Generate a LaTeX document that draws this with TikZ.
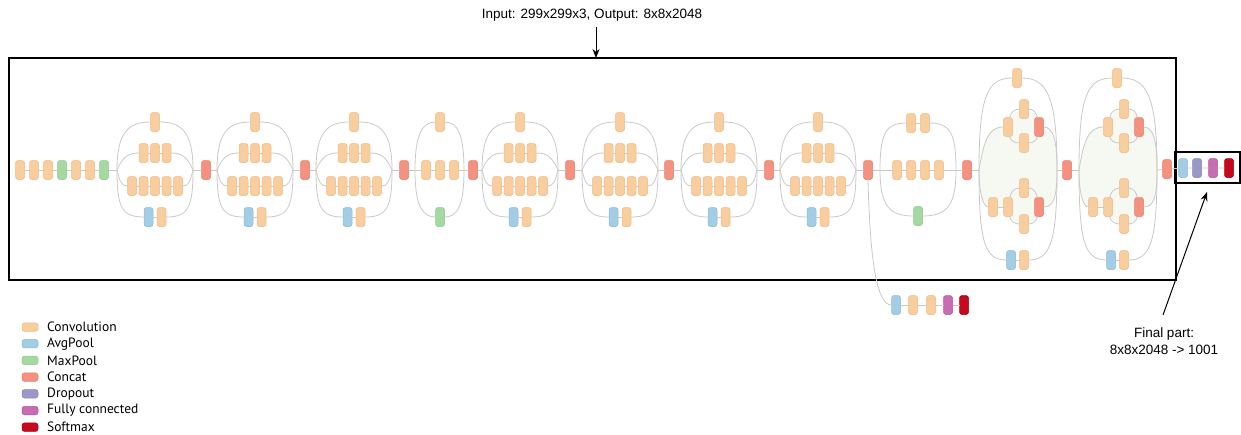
\documentclass[tikz,border=0pt]{standalone}
\usepackage{fontspec}
\setmainfont{Liberation Sans}
\newfontfamily\legfont{PT Sans}
\usetikzlibrary{arrows.meta,calc}
\definecolor{convF}{HTML}{F9CE9F}
\definecolor{convD}{HTML}{EDB886}
\definecolor{avgF}{HTML}{A3CDE4}
\definecolor{avgD}{HTML}{8DBAD3}
\definecolor{maxF}{HTML}{A6D9A1}
\definecolor{maxD}{HTML}{8EC789}
\definecolor{catF}{HTML}{F4917F}
\definecolor{catD}{HTML}{E47D6C}
\definecolor{dropF}{HTML}{9B97C9}
\definecolor{dropD}{HTML}{8783B8}
\definecolor{fcF}{HTML}{C76CB2}
\definecolor{fcD}{HTML}{B5599F}
\definecolor{smF}{HTML}{C40A1C}
\definecolor{smD}{HTML}{A80012}
\definecolor{wireC}{HTML}{C9C9C9}
\definecolor{innerF}{HTML}{F6F8F2}
\tikzset{
 blk/.style={rectangle, rounded corners=2.5pt, minimum width=9pt, minimum height=19pt, inner sep=0pt, outer sep=0pt, line width=0.5pt},
 conv/.style={blk, fill=convF, draw=convD},
 avgp/.style={blk, fill=avgF, draw=avgD},
 maxp/.style={blk, fill=maxF, draw=maxD},
 concat/.style={blk, fill=catF, draw=catD},
 drop/.style={blk, fill=dropF, draw=dropD},
 fcl/.style={blk, fill=fcF, draw=fcD},
 smax/.style={blk, fill=smF, draw=smD},
 wire/.style={draw=wireC, line width=0.8pt},
 frame/.style={draw=black, line width=1.3pt, inner sep=0pt, outer sep=0pt},
 arr/.style={draw=black, line width=1pt, -{Stealth[length=9pt,width=7pt]}},
 swatch/.style={rectangle, rounded corners=2.5pt, minimum width=16pt, minimum height=8.5pt, inner sep=0pt, line width=0.5pt},
 legtext/.style={anchor=west, inner sep=0pt, font=\legfont\fontsize{13.5}{15}\selectfont},
}
% 35x35 / 17x17 inception module
\newcommand\incA[2]{%
 \node[conv] (#1t) at (#2,-122) {};
 \node[conv] (#1m1) at (#2-11.5,-153) {};
 \node[conv] (#1m2) at (#2,-153) {};
 \node[conv] (#1m3) at (#2+11.5,-153) {};
 \foreach \ii/\dx in {1/-23,2/-11.5,3/0,4/11.5,5/23} {\node[conv] (#1l\ii) at (#2+\dx,-186) {};}
 \node[avgp] (#1b1) at (#2-6.5,-217) {};
 \node[conv] (#1b2) at (#2+6.5,-217) {};
 \coordinate (#1L) at (#2-38,-170);
 \coordinate (#1R) at (#2+38,-170);
 \draw[wire] (#1L) .. controls +(0,38) and +(-22,0) .. (#1t.west);
 \draw[wire] (#1t.east) .. controls +(22,0) and +(0,38) .. (#1R);
 \draw[wire] (#1L) .. controls +(6,14) and +(-10,0) .. (#1m1.west);
 \draw[wire] (#1m1) -- (#1m2) -- (#1m3);
 \draw[wire] (#1m3.east) .. controls +(10,0) and +(-6,14) .. (#1R);
 \draw[wire] (#1L) .. controls +(3,-12) and +(-6,0) .. (#1l1.west);
 \draw[wire] (#1l1) -- (#1l2) -- (#1l3) -- (#1l4) -- (#1l5);
 \draw[wire] (#1l5.east) .. controls +(6,0) and +(-3,-12) .. (#1R);
 \draw[wire] (#1L) .. controls +(0,-38) and +(-22,0) .. (#1b1.west);
 \draw[wire] (#1b1) -- (#1b2);
 \draw[wire] (#1b2.east) .. controls +(22,0) and +(0,-38) .. (#1R);
}
% reduction A
\newcommand\redA[2]{%
 \node[conv] (#1t) at (#2,-122) {};
 \node[conv] (#1m1) at (#2-14,-170) {};
 \node[conv] (#1m2) at (#2,-170) {};
 \node[conv] (#1m3) at (#2+14,-170) {};
 \node[maxp] (#1b) at (#2,-217) {};
 \coordinate (#1L) at (#2-25,-170);
 \coordinate (#1R) at (#2+24,-170);
 \draw[wire] (#1L) .. controls +(0,36) and +(-13,0) .. (#1t.west);
 \draw[wire] (#1t.east) .. controls +(13,0) and +(0,36) .. (#1R);
 \draw[wire] (#1L) -- (#1m1) -- (#1m2) -- (#1m3) -- (#1R);
 \draw[wire] (#1L) .. controls +(0,-36) and +(-13,0) .. (#1b.west);
 \draw[wire] (#1b.east) .. controls +(13,0) and +(0,-36) .. (#1R);
}
% reduction B
\newcommand\redB[2]{%
 \node[conv] (#1t1) at (#2-7,-123) {};
 \node[conv] (#1t2) at (#2+7,-123) {};
 \node[conv] (#1m1) at (#2-21,-170) {};
 \node[conv] (#1m2) at (#2-7,-170) {};
 \node[conv] (#1m3) at (#2+7,-170) {};
 \node[conv] (#1m4) at (#2+21,-170) {};
 \node[maxp] (#1b) at (#2,-216) {};
 \coordinate (#1L) at (#2-38,-170);
 \coordinate (#1R) at (#2+38,-170);
 \draw[wire] (#1L) .. controls +(0,38) and +(-20,0) .. (#1t1.west);
 \draw[wire] (#1t1) -- (#1t2);
 \draw[wire] (#1t2.east) .. controls +(20,0) and +(0,38) .. (#1R);
 \draw[wire] (#1L) -- (#1m1) -- (#1m2) -- (#1m3) -- (#1m4) -- (#1R);
 \draw[wire] (#1L) .. controls +(0,-36) and +(-24,0) .. (#1b.west);
 \draw[wire] (#1b.east) .. controls +(24,0) and +(0,-36) .. (#1R);
}
% 8x8 inception module
\newcommand\incC[2]{%
 \coordinate (#1L) at (#2-38,-170);
 \coordinate (#1R) at (#2+40,-170);
 \fill[innerF] (#1L) .. controls +(5,30) and +(-15,0) .. (#2-13.5,-127) -- (#2+26.5,-127)
   .. controls +(10,0) and +(0,30) .. (#1R) .. controls +(0,-28) and +(10,0) .. (#2+26.5,-207)
   -- (#2-28.5,-207) .. controls +(-5,0) and +(0,-25) .. (#1L) -- cycle;
 \fill[innerF] (#2+7,-127) circle (17);
 \fill[innerF] (#2+7,-207) circle (17);
 \node[conv] (#1t) at (#2,-78) {};
 \node[avgp] (#1b1) at (#2-6,-260) {};
 \node[conv] (#1b2) at (#2+7,-260) {};
 \node[conv] (#1u0) at (#2-9,-127) {};
 \node[conv] (#1u1) at (#2+7,-109) {};
 \node[conv] (#1u2) at (#2+7,-143) {};
 \node[concat] (#1u3) at (#2+22,-127) {};
 \node[conv] (#1d0) at (#2-24,-207) {};
 \node[conv] (#1d1) at (#2-9,-207) {};
 \node[conv] (#1d2) at (#2+7,-188) {};
 \node[conv] (#1d3) at (#2+7,-224) {};
 \node[concat] (#1d4) at (#2+22,-207) {};
 \draw[wire] (#1L) .. controls +(0,75) and +(-25,0) .. (#1t.west);
 \draw[wire] (#1t.east) .. controls +(25,0) and +(0,75) .. (#1R);
 \draw[wire] (#1L) .. controls +(0,-72) and +(-22,0) .. (#1b1.west);
 \draw[wire] (#1b1) -- (#1b2);
 \draw[wire] (#1b2.east) .. controls +(22,0) and +(0,-72) .. (#1R);
 \draw[wire] (#1L) .. controls +(5,30) and +(-15,0) .. (#1u0.west);
 \draw[wire] (#1u0) to[out=80,in=180] (#1u1);
 \draw[wire] (#1u1) to[out=0,in=100] (#1u3);
 \draw[wire] (#1u0) to[out=-80,in=180] (#1u2);
 \draw[wire] (#1u2) to[out=0,in=-100] (#1u3);
 \draw[wire] (#1u3.east) .. controls +(10,0) and +(0,30) .. (#1R);
 \draw[wire] (#1L) .. controls +(0,-25) and +(-5,0) .. (#1d0.west);
 \draw[wire] (#1d0) -- (#1d1);
 \draw[wire] (#1d1) to[out=80,in=180] (#1d2);
 \draw[wire] (#1d2) to[out=0,in=100] (#1d4);
 \draw[wire] (#1d1) to[out=-80,in=180] (#1d3);
 \draw[wire] (#1d3) to[out=0,in=-100] (#1d4);
 \draw[wire] (#1d4.east) .. controls +(10,0) and +(0,-28) .. (#1R);
}
\begin{document}
\begin{tikzpicture}[x=1pt,y=1pt]
\useasboundingbox (0,0) rectangle (1241,-434);
% frames
\node[frame, minimum width=1167pt, minimum height=222pt] (mainbox) at (592.5,-169) {};
\node[frame, minimum width=65pt, minimum height=31pt] (finalbox) at (1207.5,-167.5) {};
% title
\node[font=\fontsize{13.5}{16}\selectfont, inner sep=0pt] (title) at (592,-15) {Input: 299x299x3, Output: 8x8x2048};
\coordinate (arrtop) at (596,-27);
\draw[arr] (arrtop) -- (arrtop |- mainbox.north);
% stem
\node[conv] (s1) at (20,-170) {};
\node[conv] (s2) at (34,-170) {};
\node[conv] (s3) at (48,-170) {};
\node[maxp] (s4) at (62,-170) {};
\node[conv] (s5) at (76,-170) {};
\node[conv] (s6) at (90,-170) {};
\node[maxp] (s7) at (104,-170) {};
% modules
\incA{A}{155}
\node[concat] (c1) at (206,-170) {};
\incA{B}{255}
\node[concat] (c2) at (305,-170) {};
\incA{C}{354}
\node[concat] (c3) at (404,-170) {};
\redA{D}{440}
\node[concat] (c4) at (473,-170) {};
\incA{E}{520}
\node[concat] (c5) at (570,-170) {};
\incA{F}{620}
\node[concat] (c6) at (669,-170) {};
\incA{G}{719}
\node[concat] (c7) at (769,-170) {};
\incA{H}{818}
\node[concat] (c8) at (868,-170) {};
\redB{I}{918}
\node[concat] (c9) at (967,-170) {};
\incC{J}{1017}
\node[concat] (c10) at (1067,-170) {};
\incC{K}{1117}
\node[concat] (c11) at (1167,-169) {};
% final part
\node[avgp] (f1) at (1183,-168) {};
\node[drop] (f2) at (1197,-168) {};
\node[fcl] (f3) at (1213,-168) {};
\node[smax] (f4) at (1229,-168) {};
% main chain
\draw[wire] (s1) -- (s2) -- (s3) -- (s4) -- (s5) -- (s6) -- (s7) -- (AL);
\draw[wire] (AR) -- (c1) -- (BL);
\draw[wire] (BR) -- (c2) -- (CL);
\draw[wire] (CR) -- (c3) -- (DL);
\draw[wire] (DR) -- (c4) -- (EL);
\draw[wire] (ER) -- (c5) -- (FL);
\draw[wire] (FR) -- (c6) -- (GL);
\draw[wire] (GR) -- (c7) -- (HL);
\draw[wire] (HR) -- (c8) -- (IL);
\draw[wire] (IR) -- (c9) -- (JL);
\draw[wire] (JR) -- (c10) -- (KL);
\draw[wire] (KR) -- (c11) -- (f1) -- (f2) -- (f3) -- (f4);
% auxiliary head
\node[avgp] (a1) at (896,-305) {};
\node[conv] (a2) at (913,-305) {};
\node[conv] (a3) at (931,-305) {};
\node[fcl] (a4) at (948,-305) {};
\node[smax] (a5) at (964,-305) {};
\draw[wire] (c8.south) .. controls +(2,-80) and +(-15,0) .. (a1.west);
\draw[wire] (a1) -- (a2) -- (a3) -- (a4) -- (a5);
% final part label
\node[font=\fontsize{13.5}{17}\selectfont, align=center, inner sep=0pt] (fptext) at (1164,-341) {Final part:\\8x8x2048 -> 1001};
\coordinate (fpstart) at (1163,-315);
\coordinate (fpend) at (1207,-192);
\draw[arr] (fpstart) -- (fpend);
% legend
\node[swatch, fill=convF, draw=convD] (g1) at (30,-327) {};
\node[swatch, fill=avgF, draw=avgD] (g2) at (30,-343.7) {};
\node[swatch, fill=maxF, draw=maxD] (g3) at (30,-360.4) {};
\node[swatch, fill=catF, draw=catD] (g4) at (30,-377.1) {};
\node[swatch, fill=dropF, draw=dropD] (g5) at (30,-393.8) {};
\node[swatch, fill=fcF, draw=fcD] (g6) at (30,-410.5) {};
\node[swatch, fill=smF, draw=smD] (g7) at (30,-427.2) {};
\node[legtext] (t1) at (47,-327) {Convolution};
\node[legtext] (t2) at (47,-343.7) {AvgPool};
\node[legtext] (t3) at (47,-360.4) {MaxPool};
\node[legtext] (t4) at (47,-377.1) {Concat};
\node[legtext] (t5) at (47,-393.8) {Dropout};
\node[legtext] (t6) at (47,-410.5) {Fully connected};
\node[legtext] (t7) at (47,-427.2) {Softmax};
\end{tikzpicture}
\end{document}
